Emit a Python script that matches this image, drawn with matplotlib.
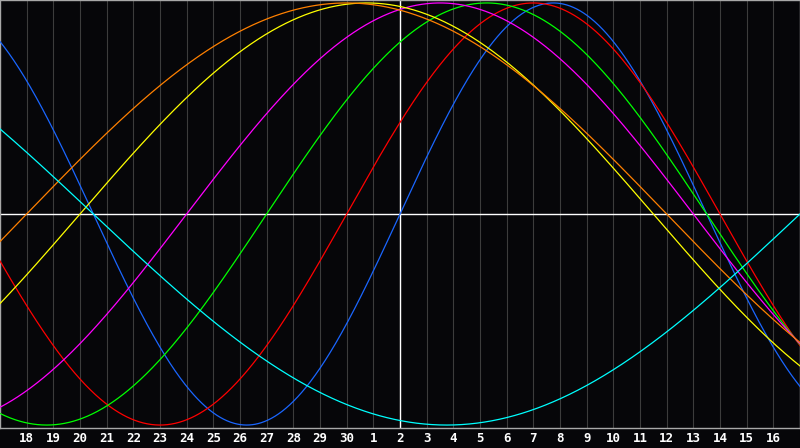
import numpy as np
import matplotlib
matplotlib.use('Agg')
import matplotlib.pyplot as plt

# biorhythm cycles: period (days) and days since last rising zero at centre day
periods = [23, 28, 33, 38, 43, 48, 53]
phases = [0, 2, 5, 8, 12, 14, 38]
colors = ['#1a66ff', '#ff0000', '#00ff00', '#ff00ff', '#ffff00', '#ff8000', '#00ffff']

day_labels = ['18', '19', '20', '21', '22', '23', '24', '25', '26', '27', '28', '29', '30',
              '1', '2', '3', '4', '5', '6', '7', '8', '9', '10', '11', '12', '13', '14', '15', '16']
center = 15  # position of today's gridline

bg = '#060609'
fig = plt.figure(figsize=(8, 4.48), dpi=100, facecolor=bg)
ax = fig.add_axes([0, 20 / 448, 1, 428 / 448])
ax.set_facecolor(bg)
ax.set_xlim(0, 30)
ax.set_ylim(-1.014, 1.014)

ticks = np.arange(1, len(day_labels) + 1)
for t in ticks:
    ax.axvline(t, color='#3c3c3c', lw=0.8, zorder=1)

x = np.linspace(0, 30, 1600)
for p, ph, c in zip(periods, phases, colors):
    ax.plot(x, np.sin(2 * np.pi * (x - center + ph) / p), color=c, lw=0.9, zorder=3)

ax.axhline(0, color='white', lw=1, zorder=2)
ax.axvline(center, color='white', lw=1, zorder=2)

for s in ax.spines.values():
    s.set_color('#a8a8a8')
    s.set_linewidth(1)

ax.set_xticks(ticks)
ax.set_xticklabels(day_labels)
ax.set_yticks([])
ax.tick_params(axis='x', length=0, pad=3, colors='white', labelsize=9)
for lbl in ax.get_xticklabels():
    lbl.set_fontweight('bold')
    lbl.set_family('DejaVu Sans Mono')

fig.savefig('out.png', dpi=100, facecolor=bg)
